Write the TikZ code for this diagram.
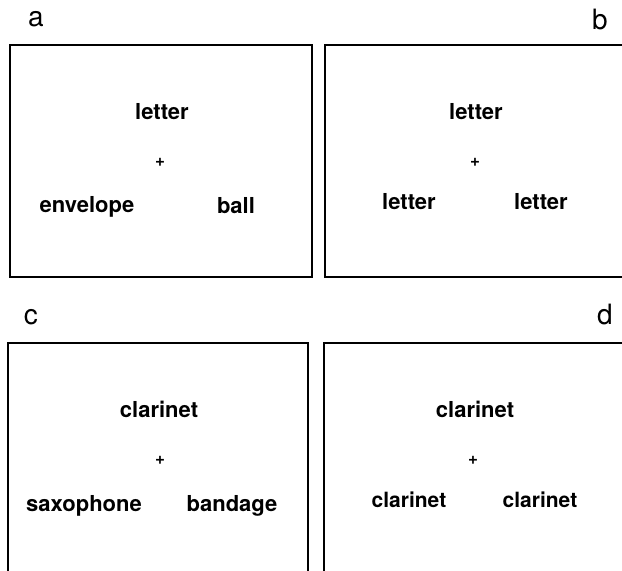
\documentclass[tikz,border=0pt]{standalone}
\usepackage{fontspec}
\setmainfont{TeX Gyre Heros}
\usetikzlibrary{positioning}

\begin{document}
\begin{tikzpicture}[
    x=0.5pt, y=-0.5pt,
    panel/.style={
        draw,
        line width=1pt,
        minimum width=#1,
        inner sep=0pt
    },
    word/.style={
        anchor=base,
        font=\fontsize{11}{13}\selectfont\bfseries
    },
    smallword/.style={
        word,
        font=\fontsize{10.5}{12}\selectfont\bfseries
    },
    fix/.style={
        font=\fontsize{8.5}{9}\selectfont\bfseries,
        inner sep=0pt
    },
    tag/.style={
        anchor=base,
        font=\fontsize{14}{16}\selectfont
    }
]

\useasboundingbox (0,0) rectangle (622,571);
\clip (0,0) rectangle (622,571);

% panels
\node[panel=151pt, minimum height=116pt] (boxa) at (161,161) {};
\node[panel=157.5pt, minimum height=116pt] (boxb) at (482.5,161) {};
\node[panel=150pt, minimum height=123.5pt] (boxc) at (158,466.5) {};
\node[panel=158pt, minimum height=123.5pt] (boxd) at (482,466.5) {};

% panel letters
\node[tag] (taga) at (36,27) {a};
\node[tag] (tagb) at (600,30) {b};
\node[tag] (tagc) at (31,325) {c};
\node[tag] (tagd) at (605,325) {d};

% panel a
\node[word] (targeta) at (162,120) {letter};
\node[fix] (fixa) at (160,162) {+};
\node[word] (lefta) at (87,213) {envelope};
\node[word] (righta) at (236,214) {ball};

% panel b
\node[word] (targetb) at (476,120) {letter};
\node[fix] (fixb) at (475,162) {+};
\node[word] (leftb) at (409,210) {letter};
\node[word] (rightb) at (541,210) {letter};

% panel c
\node[word] (targetc) at (159,418) {clarinet};
\node[fix] (fixc) at (160,460) {+};
\node[word] (leftc) at (84,512) {saxophone};
\node[word] (rightc) at (232,512) {bandage};

% panel d
\node[word] (targetd) at (475,418) {clarinet};
\node[fix] (fixd) at (473,460) {+};
\node[smallword] (leftd) at (409,508) {clarinet};
\node[smallword] (rightd) at (540,508) {clarinet};

\end{tikzpicture}
\end{document}
